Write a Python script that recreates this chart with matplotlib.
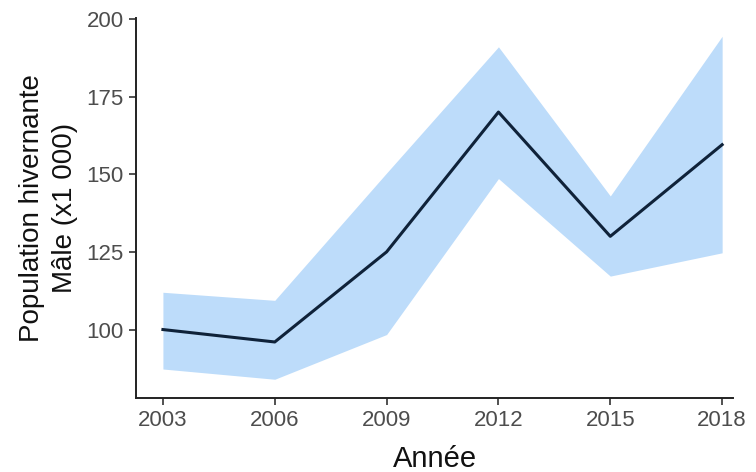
import matplotlib.pyplot as plt

years = [2003, 2006, 2009, 2012, 2015, 2018]
population = [100, 96, 125, 170, 130, 159.5]
lower = [87.3, 84, 98.4, 148.6, 117.2, 124.7]
upper = [112, 109.4, 150.4, 191, 143, 194.4]

plt.rcParams['font.family'] = ['Liberation Sans', 'DejaVu Sans']

fig = plt.figure(figsize=(7.56, 4.72), dpi=100)
ax = fig.add_axes([0.18, 0.157, 0.79, 0.805])

ax.fill_between(years, lower, upper, color='#bddcfa', linewidth=0)
ax.plot(years, population, color='#0f2239', linewidth=2.2)

ax.set_xlim(2002.28, 2018.3)
ax.set_ylim(78, 200.3)
ax.set_xticks(years)
ax.set_yticks([100, 125, 150, 175, 200])

for side in ['top', 'right']:
    ax.spines[side].set_visible(False)
for side in ['left', 'bottom']:
    ax.spines[side].set_linewidth(1.4)
    ax.spines[side].set_color('#222222')

ax.tick_params(labelsize=16, labelcolor='#4d4d4d', color='#333333', length=5, width=1.2, pad=4)
ax.set_xlabel('Année', fontsize=21, color='#111111', labelpad=10)
ax.set_ylabel('Population hivernante\nMâle (x1 000)', fontsize=20, color='#111111',
              labelpad=6, linespacing=1.35)

fig.savefig('out.png', dpi=100)
